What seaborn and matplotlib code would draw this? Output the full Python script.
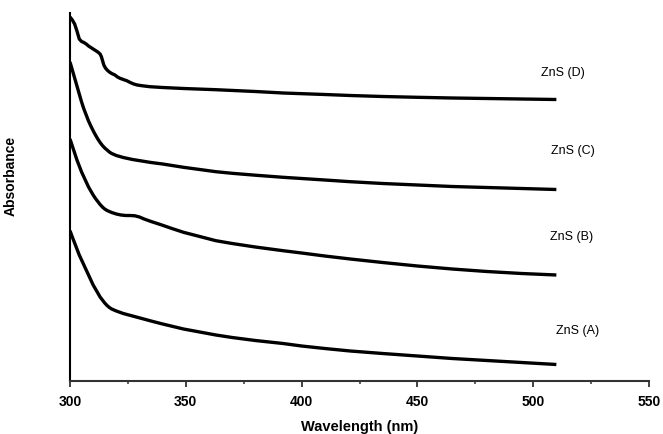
import matplotlib
matplotlib.use("Agg")
import matplotlib.pyplot as plt
import seaborn as sns
import pandas as pd
from matplotlib.ticker import MultipleLocator

# ---- data (absorbance in arbitrary units) ----
x_a = [300, 301, 302, 303, 304, 305, 306, 307, 308, 309, 310, 311, 312, 313, 314, 315, 316, 317, 318,
       320, 323, 327, 331, 335, 340, 349, 356, 363, 370, 380, 392, 400, 410, 421, 435, 450, 465, 480, 495, 510]
y_a = [1.503, 1.44, 1.38, 1.32, 1.26, 1.21, 1.16, 1.11, 1.06, 1.01, 0.96, 0.92, 0.88, 0.84, 0.81, 0.78,
       0.755, 0.735, 0.72, 0.70, 0.675, 0.65, 0.625, 0.60, 0.57, 0.52, 0.49, 0.46, 0.435, 0.405, 0.375,
       0.35, 0.325, 0.30, 0.275, 0.25, 0.225, 0.205, 0.185, 0.165]

x_b = [300, 301, 302, 303, 304, 305, 306, 307, 308, 309, 310, 311, 312, 313, 314, 315, 316, 318, 320,
       322, 324, 326, 328, 330, 332, 335, 339, 344, 349, 356, 363, 370, 380, 392, 400, 410, 421, 435,
       450, 465, 480, 495, 510]
y_b = [2.42, 2.35, 2.28, 2.21, 2.15, 2.09, 2.04, 1.99, 1.94, 1.90, 1.86, 1.825, 1.795, 1.765, 1.74,
       1.72, 1.705, 1.685, 1.67, 1.66, 1.655, 1.655, 1.652, 1.64, 1.62, 1.595, 1.565, 1.525, 1.487,
       1.445, 1.403, 1.375, 1.34, 1.303, 1.28, 1.25, 1.22, 1.185, 1.15, 1.12, 1.095, 1.075, 1.06]

x_c = [300, 301, 302, 303, 304, 305, 306, 307, 308, 309, 310, 311, 312, 313, 314, 315, 316, 317, 318,
       320, 323, 327, 331, 335, 340, 349, 356, 363, 370, 380, 392, 400, 410, 421, 435, 450, 465, 480, 495, 510]
y_c = [3.19, 3.11, 3.03, 2.95, 2.87, 2.79, 2.72, 2.66, 2.60, 2.55, 2.503, 2.46, 2.42, 2.385, 2.355,
       2.33, 2.31, 2.29, 2.275, 2.255, 2.235, 2.215, 2.20, 2.185, 2.17, 2.137, 2.115, 2.093, 2.077,
       2.058, 2.037, 2.025, 2.01, 1.993, 1.975, 1.96, 1.945, 1.935, 1.925, 1.915]

x_d = [300, 301, 302, 303, 304, 305, 306, 307, 308, 309, 310, 311, 312, 313, 313.6, 314.1, 314.6, 315.3,
       316, 317, 318, 319.4, 320.5, 321.6, 323, 324.5, 326, 327.5, 329, 331, 334.5, 340, 349, 363, 380,
       392, 410, 421, 435, 450, 465, 480, 495, 510]
y_d = [3.64, 3.61, 3.57, 3.50, 3.42, 3.395, 3.385, 3.37, 3.35, 3.335, 3.32, 3.305, 3.29, 3.27, 3.24,
       3.20, 3.16, 3.13, 3.11, 3.09, 3.075, 3.06, 3.04, 3.027, 3.015, 3.003, 2.985, 2.97, 2.96, 2.953,
       2.943, 2.935, 2.925, 2.913, 2.895, 2.88, 2.865, 2.855, 2.845, 2.837, 2.83, 2.825, 2.82, 2.815]

names = ["ZnS (A)", "ZnS (B)", "ZnS (C)", "ZnS (D)"]
label_x = [519, 516.5, 517, 513]
label_y = [0.51, 1.45, 2.31, 3.09]

xticks = [300, 350, 400, 450, 500, 550]

frames = []
for n, xs, ys in zip(names, [x_a, x_b, x_c, x_d], [y_a, y_b, y_c, y_d]):
    frames.append(pd.DataFrame({"Wavelength": xs, "Absorbance": ys, "Sample": n}))
df = pd.concat(frames, ignore_index=True)

sns.set_style("ticks")
plt.rcParams["font.family"] = ["Liberation Sans", "DejaVu Sans"]
plt.rcParams["text.color"] = "black"
plt.rcParams["axes.labelcolor"] = "black"
plt.rcParams["xtick.labelcolor"] = "black"

fig = plt.figure(figsize=(6.63, 4.35), dpi=100)
ax = fig.add_axes([70 / 663, 1 - 382 / 435, 579 / 663, 368 / 435])

sns.lineplot(data=df, x="Wavelength", y="Absorbance", hue="Sample",
             palette=["black"] * 4, linewidth=2.4, legend=False, ax=ax,
             sort=False, estimator=None, solid_joinstyle="round", solid_capstyle="butt")

for n, lx, ly in zip(names, label_x, label_y):
    ax.text(lx, ly, n, ha="center", va="center", fontsize=9, color="black")

ax.set_xlim(300, 550)
ax.set_ylim(0, 3.68)
ax.set_xticks(xticks)
ax.set_xticklabels([str(t) for t in xticks], fontweight="bold", fontsize=10, color="black")
ax.xaxis.set_minor_locator(MultipleLocator(25))
ax.set_yticks([])

ax.tick_params(axis="x", which="major", direction="out", length=4.5, width=1.3,
               color="#333333", pad=5)
ax.tick_params(axis="x", which="minor", direction="out", length=2.5, width=1.1,
               color="#333333")

for side in ["top", "right"]:
    ax.spines[side].set_visible(False)
ax.spines["left"].set_linewidth(1.5)
ax.spines["left"].set_color("black")
ax.spines["bottom"].set_linewidth(1.5)
ax.spines["bottom"].set_color("#333333")

ax.set_xlabel("Wavelength (nm)", fontweight="bold", fontsize=10.5, labelpad=8, color="black")
ax.set_ylabel("Absorbance", fontweight="bold", fontsize=10, color="black")
ax.yaxis.set_label_coords(-0.09, 0.56)

fig.savefig("out.png", dpi=100)
